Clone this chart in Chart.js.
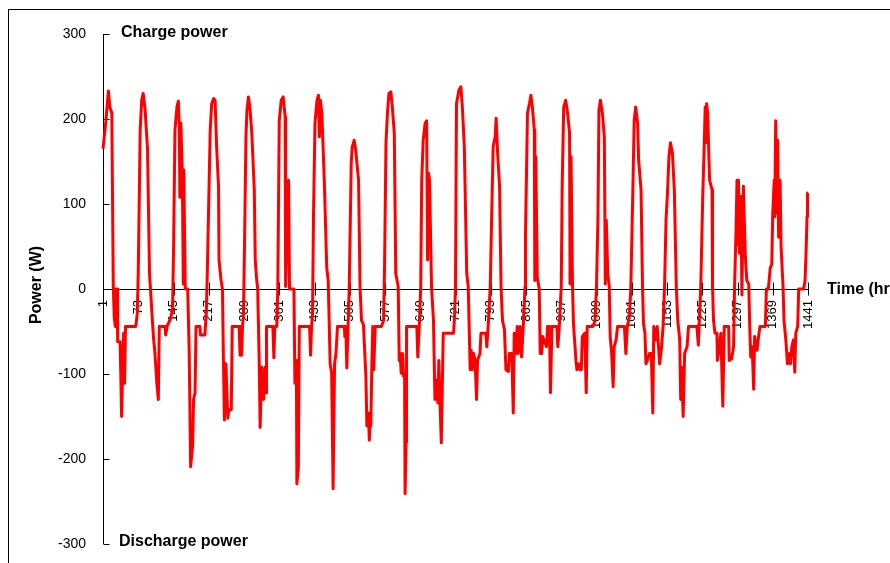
<!DOCTYPE html>
<html>
<head>
<meta charset="utf-8">
<script src="https://cdn.jsdelivr.net/npm/chart.js@4.4.0/dist/chart.umd.min.js"></script>
<style>
  html, body { margin: 0; padding: 0; background: #fff; }
  #wrap { width: 890px; height: 563px; position: relative; }
</style>
</head>
<body>
<div id="wrap"><canvas id="myChart" width="890" height="563"></canvas></div>
<script>
// Hour of the run (x) and battery power in W (y)
const hours = [
  1,7,12,15,19,22,24,26,27,28,30,31,36,39,43,45,47,68,71,
  73,77,80,83,87,92,96,98,101,104,107,111,114,116,128,129,132,138,143,
  145,148,152,155,157,158,160,163,165,166,169,174,177,180,184,186,189,191,199,200,209,212,
  214,220,223,227,230,233,237,238,242,245,247,249,252,256,258,263,265,279,281,283,284,286,288,
  290,293,295,298,301,305,310,312,315,317,320,322,325,329,332,334,335,348,350,352,356,
  358,361,365,369,373,374,380,382,391,393,396,397,400,402,404,423,425,427,429,
  431,434,438,441,443,445,448,453,458,461,465,468,471,474,477,480,494,495,497,499,502,
  504,508,510,514,517,523,526,529,533,538,540,543,545,547,548,550,552,554,557,570,574,
  576,579,582,585,589,592,596,599,604,606,608,610,613,615,617,618,620,621,642,644,647,
  650,652,655,659,662,664,666,668,672,676,679,683,685,687,689,692,696,717,719,
  721,723,728,732,735,739,744,747,751,753,755,758,761,764,766,771,773,783,785,788,
  792,795,798,802,804,807,811,814,817,821,824,829,831,836,839,841,844,847,849,853,856,860,
  863,864,868,872,875,878,882,883,885,888,892,894,897,899,903,907,909,913,915,918,928,930,933,
  937,939,942,946,950,954,955,957,960,962,967,969,972,975,978,980,985,988,990,1002,1006,
  1009,1012,1014,1017,1021,1025,1027,1029,1032,1035,1037,1040,1043,1045,1049,1052,1066,1069,1072,1076,
  1079,1083,1086,1089,1093,1095,1100,1103,1105,1108,1110,1113,1117,1121,1124,1126,1130,1133,1138,1142,1145,
  1148,1151,1154,1157,1160,1164,1168,1172,1175,1179,1181,1183,1186,1189,1194,1197,1214,1217,1219,
  1222,1226,1229,1231,1232,1234,1236,1240,1245,1246,1248,1251,1255,1256,1260,1263,1267,1270,1279,1280,1285,1289,
  1291,1294,1296,1298,1299,1301,1304,1306,1309,1313,1316,1320,1322,1324,1327,1330,1332,1337,1340,1343,1354,
  1356,1360,1364,1367,1369,1372,1373,1375,1377,1379,1381,1384,1386,1390,1392,1396,1399,1403,1405,1408,1411,1414,1416,1420,
  1422,1432,1435,1437,1439,1440,1441
];

const powerW = [
  165,198,233,214,207,3,-33,-44,0,-37,0,-62,-62,-150,-52,-111,-44,-44,-29,
  18,187,222,230,211,164,18,0,-29,-56,-75,-111,-130,-44,-44,-54,-44,-36,-25,
  41,187,214,221,187,108,195,136,6,140,0,0,-72,-209,-185,-130,-122,-44,-44,-54,-54,-29,
  18,187,218,224,222,168,121,34,11,0,-84,-154,-88,-152,-142,-142,-44,-44,-78,-44,-78,-44,-29,
  50,179,210,226,214,183,117,34,10,0,-84,-163,-92,-130,-92,-122,-44,-44,-81,-44,-44,
  0,198,222,226,203,3,128,0,0,-111,-84,-229,-210,-44,-44,-44,-78,-44,-29,
  89,195,222,228,179,222,207,128,25,10,-88,-99,-235,-88,-75,-44,-44,-56,-44,-93,-37,
  3,148,167,175,164,128,3,-37,-42,-103,-161,-146,-178,-146,-161,-95,-44,-95,-44,-44,-37,
  22,172,207,230,232,214,183,18,3,-84,-76,-99,-76,-103,-99,-241,-180,-44,-44,-80,-44,
  3,128,175,195,198,34,136,128,3,-37,-130,-107,-134,-84,-126,-181,-52,-52,-33,
  3,218,234,238,214,168,18,3,-95,-72,-95,-76,-84,-130,-84,-76,-52,-52,-68,-41,
  3,89,168,179,201,160,121,3,-37,-48,-95,-97,-76,-76,-146,-52,-76,-44,-76,-44,-80,-37,
  3,65,207,218,228,214,187,10,156,14,0,-76,-76,-56,-62,-68,-44,-44,-122,-44,-44,-68,-44,
  3,124,214,222,207,183,6,156,3,-41,-84,-95,-88,-95,-95,-56,-52,-122,-44,-44,-37,
  3,85,211,222,207,179,6,81,18,3,-56,-76,-115,-68,-60,-44,-44,-76,-44,-33,
  -1,109,198,214,195,152,117,3,-41,-52,-88,-84,-76,-76,-146,-44,-60,-44,-88,-68,-44,
  3,81,113,156,172,160,117,3,-37,-60,-130,-92,-150,-76,-68,-44,-44,-66,-37,
  3,109,168,214,172,218,207,128,117,3,-37,-52,-52,-84,-68,-52,-138,-44,-44,-84,-82,-68,
  3,69,128,52,128,42,109,-7,121,38,10,6,-44,-80,-68,-118,-56,-72,-56,-44,-44,
  0,0,25,29,89,128,85,198,89,175,61,128,50,3,-37,-62,-88,-76,-88,-68,-60,-98,-52,-44,
  0,0,10,42,85,113,113
];

const xTicks = [1,73,145,217,289,361,433,505,577,649,721,793,865,937,1009,1081,1153,1225,1297,1369,1441];
const yTicks = [300,200,100,0,-100,-200,-300];

Chart.defaults.font.family = '"Liberation Sans", Arial, sans-serif';
Chart.defaults.color = '#000';

// axis lines, tick marks, frame and the free text labels
const decorPlugin = {
  id: 'decor',
  beforeDatasetsDraw(chart) {
    const { ctx, chartArea, scales: { x, y } } = chart;
    const y0 = Math.round(y.getPixelForValue(0)) + 0.5;
    const left = Math.round(chartArea.left) + 0.5;
    ctx.save();
    ctx.strokeStyle = '#000';
    ctx.lineWidth = 1;
    ctx.beginPath();
    ctx.moveTo(left, y.getPixelForValue(300));
    ctx.lineTo(left, y.getPixelForValue(-300));
    yTicks.forEach(v => {
      const py = Math.round(y.getPixelForValue(v)) + 0.5;
      ctx.moveTo(left, py);
      ctx.lineTo(left + 6, py);
    });
    ctx.moveTo(left, y0);
    ctx.lineTo(x.getPixelForValue(1441) + 1, y0);
    xTicks.forEach(h => {
      const px = Math.round(x.getPixelForValue(h)) + 0.5;
      ctx.moveTo(px, y0 - 7);
      ctx.lineTo(px, y0 + 6);
    });
    ctx.stroke();
    ctx.restore();
  },
  afterDraw(chart) {
    const { ctx } = chart;
    ctx.save();
    ctx.strokeStyle = '#000';
    ctx.lineWidth = 1;
    ctx.strokeRect(8.5, 9.5, 1000, 1000);

    ctx.fillStyle = '#000';
    ctx.font = 'bold 16px "Liberation Sans", Arial, sans-serif';
    ctx.textBaseline = 'alphabetic';
    ctx.textAlign = 'left';
    ctx.fillText('Charge power', 121, 37);
    ctx.fillText('Discharge power', 119, 546);
    ctx.fillText('Time (hr)', 827, 294);

    ctx.translate(37, 285);
    ctx.rotate(-Math.PI / 2);
    ctx.textAlign = 'center';
    ctx.textBaseline = 'middle';
    ctx.fillText('Power (W)', 0, 0);
    ctx.restore();
  }
};

const ctx = document.getElementById('myChart').getContext('2d');
const chart = new Chart(ctx, {
  type: 'line',
  data: {
    datasets: [{
      label: 'Power',
      data: hours.map((h, i) => ({ x: h, y: powerW[i] })),
      borderColor: '#ff0000',
      borderWidth: 3,
      borderJoinStyle: 'round',
      pointRadius: 0,
      tension: 0,
      fill: false,
      clip: false
    }]
  },
  options: {
    responsive: false,
    animation: false,
    layout: { padding: { left: 0, top: 34, right: 82, bottom: 19 } },
    plugins: {
      legend: { display: false },
      tooltip: { enabled: false }
    },
    scales: {
      x: {
        type: 'linear',
        position: { y: 0 },
        min: 1,
        max: 1441,
        grid: { display: false, drawTicks: false },
        border: { display: false },
        afterBuildTicks: axis => { axis.ticks = xTicks.map(v => ({ value: v })); },
        ticks: {
          autoSkip: false,
          minRotation: 90,
          maxRotation: 90,
          padding: 11,
          font: { size: 13 },
          callback: v => String(v)
        }
      },
      y: {
        min: -300,
        max: 300,
        grid: { display: false, drawTicks: false },
        border: { display: false },
        afterFit: scale => {
          scale.width = 103;
          scale.paddingTop = 0;
          scale.paddingBottom = 0;
        },
        ticks: {
          stepSize: 100,
          padding: 17,
          font: { size: 14 },
          callback: v => String(v)
        }
      }
    }
  },
  plugins: [decorPlugin]
});
</script>
</body>
</html>
